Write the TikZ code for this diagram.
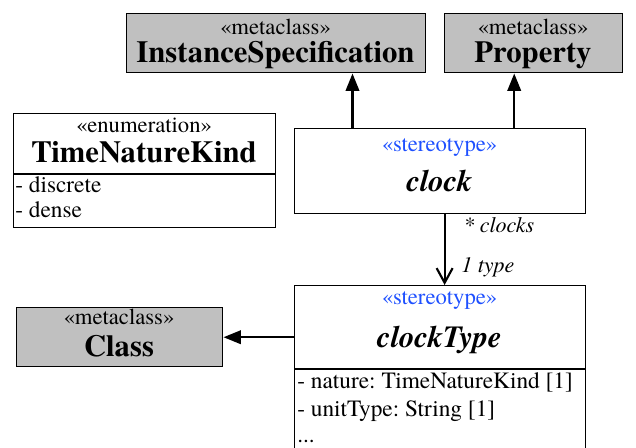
\documentclass[tikz,border=0pt]{standalone}
\usepackage{fontspec}
\setmainfont{texgyretermes}[Extension=.otf, UprightFont=*-regular, BoldFont=*-bold, ItalicFont=*-italic, BoldItalicFont=*-bolditalic]
\usepackage{tikz}
\usepackage{xcolor}
\usetikzlibrary{positioning,arrows.meta,calc}
\frenchspacing

\definecolor{metagray}{RGB}{192,192,192}
\definecolor{stereoblue}{RGB}{30,80,255}

\begin{document}
\begin{tikzpicture}[
      x=0.75pt, y=-0.75pt,
      box/.style={draw, line width=1.1pt, inner sep=0pt, anchor=north west},
      meta/.style={box, fill=metagray},
      stereo/.style={anchor=base, inner sep=0pt, font=\fontsize{17}{20}\selectfont},
      bluestereo/.style={stereo, text=stereoblue},
      title/.style={anchor=base, inner sep=0pt, font=\fontsize{23}{26}\selectfont\bfseries},
      ititle/.style={anchor=base, inner sep=0pt, font=\fontsize{23}{26}\selectfont\bfseries\itshape},
      attr/.style={anchor=base west, inner sep=0pt, font=\fontsize{17.5}{20}\selectfont},
      role/.style={anchor=base west, inner sep=0pt, font=\fontsize{16.5}{19}\selectfont\itshape},
      ext/.style={-{Triangle[length=13pt, width=10pt]}, line width=1.8pt},
      nav/.style={-{Straight Barb[length=11pt, width=12pt, line width=1.6pt]}, line width=1.6pt}
  ]
    \path[use as bounding box, clip] (0,0) rectangle (636,448);
    \fill[white] (0,0) rectangle (636,448);

    % metaclasses
    \node[meta, minimum width=224.25pt, minimum height=44.25pt] (inst) at (126,13) {};
    \node[stereo] (instst) at (275.5,35) {«metaclass»};
    \node[title] (instname) at (275.5,63) {InstanceSpecification};

    \node[meta, minimum width=133.5pt, minimum height=44.25pt] (prop) at (444,13) {};
    \node[stereo] (propst) at (533,35) {«metaclass»};
    \node[title] (propname) at (533,63) {Property};

    \node[meta, minimum width=154.5pt, minimum height=44.25pt] (cls) at (16,307) {};
    \node[stereo] (clsst) at (119,325) {«metaclass»};
    \node[title] (clsname) at (119,357) {Class};

    % enumeration
    \node[box, minimum width=196.5pt, minimum height=85.5pt] (enum) at (13,113) {};
    \node[stereo] (enumst) at (144,133) {«enumeration»};
    \node[title] (enumname) at (144,163) {TimeNatureKind};
    \draw[line width=1.1pt] (enum.west |- 0,174) -- (enum.east |- 0,174);
    \node[attr] (lit1) at (15,193) {- discrete};
    \node[attr] (lit2) at (15,218) {- dense};

    % stereotypes
    \node[box, minimum width=218.25pt, minimum height=63.75pt] (clock) at (294,128) {};
    \node[bluestereo] (clockst) at (439.5,152) {«stereotype»};
    \node[ititle] (clockname) at (439.5,192) {clock};

    \node[box, minimum width=218.25pt, minimum height=140pt] (ctype) at (294,285) {};
    \node[bluestereo] (ctypest) at (439.5,305) {«stereotype»};
    \node[ititle] (ctypename) at (439.5,348) {clockType};
    \draw[line width=1.1pt] (ctype.west |- 0,369) -- (ctype.east |- 0,369);
    \node[attr] (att1) at (297,389) {- nature: TimeNatureKind [1]};
    \node[attr] (att2) at (297,417) {- unitType: String [1]};
    \node[attr] (att3) at (297,443) {...};

    % extensions and association
    \coordinate (c1) at ($(clock.north west)!0.2!(clock.north east)$);
    \coordinate (c2) at ($(clock.north west)!0.753!(clock.north east)$);
    \coordinate (c3) at ($(clock.south west)!0.515!(clock.south east)$);
    \draw[ext] (c1) -- (c1 |- inst.south);
    \draw[ext] (c2) -- (c2 |- prop.south);
    \draw[ext] (ctype.west |- cls.east) -- (cls.east);
    \draw[nav] (c3) -- (c3 |- ctype.north);
    \node[role] (rclocks) at (463,233) {* clocks};
    \node[role] (rtype) at (461,273) {1 type};
  \end{tikzpicture}
\end{document}
